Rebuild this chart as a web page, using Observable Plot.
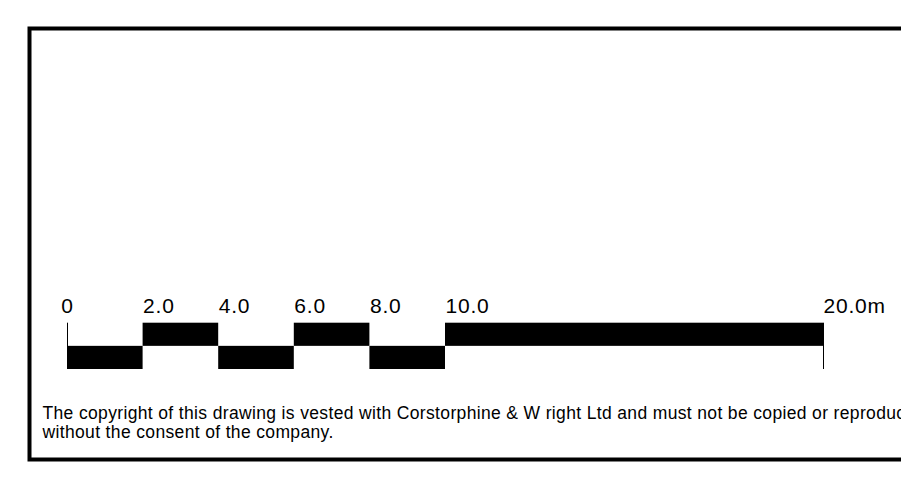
<!DOCTYPE html>
<html>
<head>
<meta charset="utf-8">
<script src="https://cdn.jsdelivr.net/npm/d3@7"></script>
<script src="https://cdn.jsdelivr.net/npm/@observablehq/plot@0.6"></script>
<style>
  html, body { margin: 0; padding: 0; background: #fff; overflow: hidden; }
  #chart svg { overflow: hidden; max-width: none; }
  #chart g[font-size="17.5"] text, #chart text[font-size="17.5"] { letter-spacing: 0.35px; }
  #chart g[font-size="21"] text, #chart text[font-size="21"] { letter-spacing: 0.8px; }
</style>
</head>
<body>
<div id="chart"></div>
<script>
// Scale bar segments (metres)
const segStart = [0, 2, 4, 6, 8, 10];
const segEnd   = [2, 4, 6, 8, 10, 20];
const segLevel = [0, 1, 0, 1, 0, 1]; // 0 = lower row, 1 = upper row

// Tick labels
const tickValues = [0, 2, 4, 6, 8, 10, 20];
const tickLabels = ["0", "2.0", "4.0", "6.0", "8.0", "10.0", "20.0m"];

// End markers
const endMarks = [0, 20];

// Footer note
const footerLines = [
  "The copyright of this drawing is vested with Corstorphine & W right Ltd and must not be copied or reproduced",
  "without the consent of the company."
];

const segments = segStart.map((s, i) => ({start: s, end: segEnd[i], level: segLevel[i]}));
const ticks = tickValues.map((v, i) => ({value: v, label: tickLabels[i]}));

const chart = Plot.plot({
  width: 901,
  height: 477,
  marginLeft: 29,
  marginTop: 28,
  marginBottom: 18,
  marginRight: -40,
  style: {fontFamily: "'Liberation Sans', Arial, sans-serif", background: "#fff", overflow: "hidden"},
  x: {domain: [0, 20], range: [67, 823], axis: null},
  y: {domain: [0, 2], range: [369, 322.7], axis: null},
  marks: [
    Plot.frame({stroke: "black", strokeWidth: 4}),
    Plot.rectX(segments, {x1: "start", x2: "end", y1: d => d.level, y2: d => d.level + 1, fill: "black"}),
    Plot.ruleX(endMarks, {x: d => d, y1: 0, y2: 2, stroke: "black", strokeWidth: 1}),
    Plot.text(ticks.filter(d => d.value === 0), {
      x: "value", y: 2, text: "label", textAnchor: "middle", lineAnchor: "bottom",
      dy: -10, fontSize: 21, fill: "black"
    }),
    Plot.text(ticks.filter(d => d.value !== 0), {
      x: "value", y: 2, text: "label", textAnchor: "start", lineAnchor: "bottom",
      dy: -10, dx: 0, fontSize: 21, fill: "black"
    }),
    Plot.text([footerLines.join("\n")], {
      frameAnchor: "bottom-left", text: d => d, textAnchor: "start", lineAnchor: "bottom",
      dx: 13, dy: -22, fontSize: 17.5, lineHeight: 1.05, fill: "black"
    })
  ]
});
document.getElementById("chart").appendChild(chart);
</script>
</body>
</html>
